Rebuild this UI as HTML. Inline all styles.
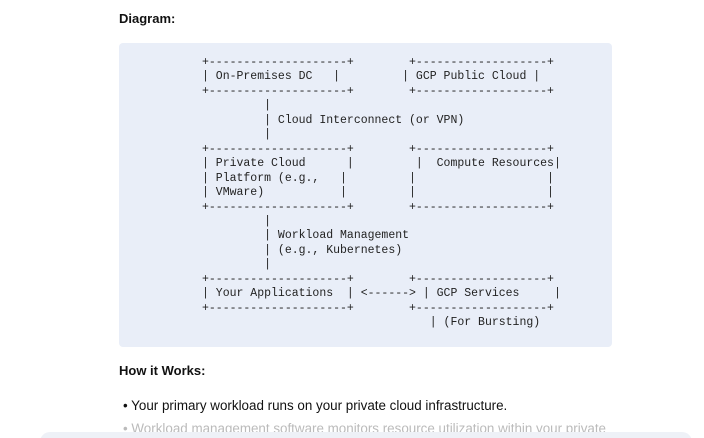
<!DOCTYPE html>
<html><head><style>
html,body{margin:0;width:704px;height:438px;overflow:hidden}
body{background:#fff;font-family:"Liberation Sans",sans-serif;color:#111;position:relative}
.h{position:absolute;left:119px;font-weight:bold;font-size:13px}
.box{position:absolute;left:119px;top:43px;width:493px;height:304px;background:#e9eef8;border-radius:4px}
pre{position:absolute;left:202px;top:56px;margin:0;font-family:"Liberation Mono",monospace;font-size:11.5px;line-height:14.45px;color:#222}
.li{position:absolute;left:123px;font-size:13.4px}
.fade{position:absolute;left:40px;top:432px;width:652px;height:20px;background:#eef1f7;border-radius:12px}
</style></head><body>
<div class="h" style="top:11px">Diagram:</div>
<div class="box"></div>
<pre>+--------------------+        +-------------------+
| On-Premises DC   |         | GCP Public Cloud |
+--------------------+        +-------------------+
         |
         | Cloud Interconnect (or VPN)
         |
+--------------------+        +-------------------+
| Private Cloud      |         |  Compute Resources|
| Platform (e.g.,   |         |                   |
| VMware)           |         |                   |
+--------------------+        +-------------------+
         |
         | Workload Management
         | (e.g., Kubernetes)
         |
+--------------------+        +-------------------+
| Your Applications  | &lt;------&gt; | GCP Services     |
+--------------------+        +-------------------+
                                 | (For Bursting)</pre>
<div class="h" style="top:363px">How it Works:</div>
<div class="li" style="top:398px">• Your primary workload runs on your private cloud infrastructure.</div>
<div class="li" style="top:421px;color:#bbb">• Workload management software monitors resource utilization within your private</div>
<div class="fade"></div>
</body></html>
